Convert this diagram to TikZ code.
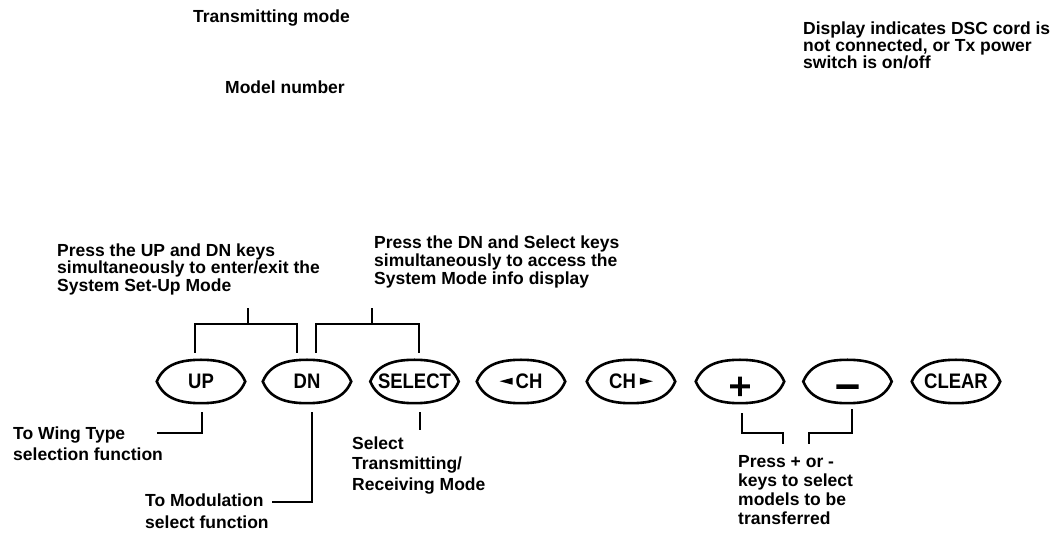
\documentclass[tikz,border=0pt]{standalone}
\usepackage{fontspec}
\setmainfont{Liberation Sans}
\newfontfamily\keyfont{Liberation Sans}[FakeStretch=0.88]
\newfontfamily\signfont{DejaVu Sans}[FakeBold=5]

% small pointer triangles used on the channel keys
\newcommand\lefttri{\tikz[baseline={(0pt,-7.5pt)}]\fill (0pt,0pt) -- (13pt,3.5pt) -- (13pt,-3.5pt) -- cycle;}
\newcommand\righttri{\tikz[baseline={(0pt,-7.5pt)}]\fill (13pt,0pt) -- (0pt,3.5pt) -- (0pt,-3.5pt) -- cycle;}

\tikzset{
  lbl/.style={font=\bfseries\fontsize{17.5}{17.5}\selectfont, inner sep=0pt, align=left},
  keycap/.style={minimum width=88pt, minimum height=43pt, inner sep=0pt,
                 font=\keyfont\bfseries\fontsize{21}{21}\selectfont},
  signcap/.style={keycap, font=\signfont\fontsize{29}{29}\selectfont},
  rim/.style={line width=2.6pt},
  lead/.style={line width=1.2pt}
}

\begin{document}
\begin{tikzpicture}[x=1pt,y=1pt]
\fill[white] (0,0) rectangle (1059,537);
\useasboundingbox (0,0) rectangle (1059,537);

% display captions
\node[lbl, anchor=base west] (tm) at (193,514) {Transmitting mode};
\node[lbl, anchor=base west] (mn) at (225,443) {Model number};
\node[lbl, anchor=north west, font=\bfseries\fontsize{17.5}{17}\selectfont] (dsc) at (803,515.5)
  {Display indicates DSC cord is\\not connected, or Tx power\\switch is on/off};

% key-combination notes
\node[lbl, anchor=north west] (p1) at (57,293.5)
  {Press the UP and DN keys\\simultaneously to enter/exit the\\System Set-Up Mode};
\begin{scope}
  \clip (0,0) rectangle (622,537);
  \node[lbl, anchor=north west, font=\bfseries\fontsize{17.5}{18}\selectfont] (p2) at (374,301.5)
    {Press the DN and Select keys\\simultaneously to access the\\System Mode info display};
\end{scope}

% keys
\node[keycap] (up)    at (201,155.5)   {UP};
\node[keycap] (dn)    at (307,155.5)   {DN};
\node[keycap] (sel)   at (414.5,155.5) {SELECT};
\node[keycap] (chl)   at (521,155.5)   {\lefttri\hspace{3pt}CH};
\node[keycap] (chr)   at (631,155.5)   {CH\hspace{4pt}\righttri};
\node[signcap] (plus)  at (740,155.5)  {\raisebox{-14pt}[0pt][0pt]{+}};
\node[signcap, font=\signfont\fontsize{33}{33}\selectfont] (minus) at (847.5,155.5)
  {\raisebox{-15.5pt}[0pt][0pt]{−}};
\node[keycap] (clr)   at (956,155.5)   {CLEAR};

\foreach \k in {up,dn,sel,chl,chr,plus,minus,clr}
  \draw[rim] (\k.west) to[out=68,in=180] (\k.north) to[out=0,in=112] (\k.east)
             to[out=-112,in=0] (\k.south) to[out=180,in=-68] (\k.west) -- cycle;

% brackets above the keys
\coordinate (j1) at (248,213);
\coordinate (t1) at (248,229);
\draw[lead] ([shift={(-6pt,7pt)}]up.north) |- (j1) -| ([shift={(-10pt,7pt)}]dn.north);
\draw[lead] (j1) -- (t1);
\coordinate (j2) at (372,213);
\coordinate (t2) at (372,229);
\draw[lead] ([shift={(9pt,7pt)}]dn.north) |- (j2) -| ([shift={(4.5pt,7pt)}]sel.north);
\draw[lead] (j2) -- (t2);

% leaders below the keys
\coordinate (w1) at (157,104);
\draw[lead] ([shift={(1pt,-9pt)}]up.south) |- (w1);
\coordinate (m1) at (272,35);
\draw[lead] ([shift={(5pt,-9pt)}]dn.south) |- (m1);
\coordinate (s1) at (420,107);
\draw[lead] ([shift={(5.5pt,-9pt)}]sel.south) -- (s1);
\coordinate (pj) at (783,104);
\coordinate (pe) at (783,93);
\draw[lead] ([shift={(2pt,-10pt)}]plus.south) |- (pj) -- (pe);
\coordinate (qj) at (809,104);
\coordinate (qe) at (809,93);
\draw[lead] ([shift={(4.5pt,-6pt)}]minus.south) |- (qj) -- (qe);

% notes below the keys
\node[lbl, anchor=north west, font=\bfseries\fontsize{17.5}{21.3}\selectfont] (wing) at (13,110.5)
  {To Wing Type\\selection function};
\node[lbl, anchor=north west, font=\bfseries\fontsize{17.5}{22}\selectfont] (modl) at (145,43.5)
  {To Modulation\\select function};
\node[lbl, anchor=north west, font=\bfseries\fontsize{17.5}{20.5}\selectfont] (selt) at (352,100.5)
  {Select\\Transmitting/\\Receiving Mode};
\node[lbl, anchor=north west, font=\bfseries\fontsize{17.5}{18.8}\selectfont] (pm) at (738,81.5)
  {Press + or -\\keys to select\\models to be\\transferred};
\end{tikzpicture}
\end{document}
